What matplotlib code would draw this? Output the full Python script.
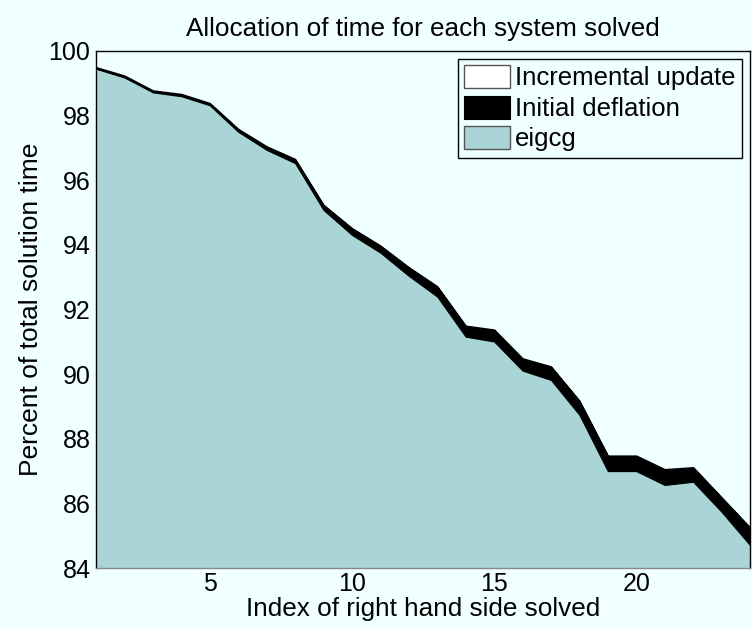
import matplotlib
matplotlib.use("Agg")
import matplotlib.pyplot as plt
import numpy as np

plt.rcParams['font.family'] = ['Liberation Sans', 'DejaVu Sans']

rhs_index = list(range(1, 25))
# top of initial deflation band (eigcg + initial deflation), percent
eigcg_plus_deflation = [99.47, 99.21, 98.75, 98.64, 98.36, 97.56, 97.02, 96.63, 95.21, 94.49,
                        93.95, 93.28, 92.69, 91.47, 91.35, 90.46, 90.21, 89.15, 87.45, 87.45,
                        87.03, 87.09, 86.16, 85.23]
eigcg = [99.45, 99.18, 98.72, 98.60, 98.32, 97.50, 96.94, 96.53, 95.08, 94.31,
         93.76, 93.04, 92.40, 91.16, 91.01, 90.11, 89.82, 88.74, 87.00, 87.00,
         86.57, 86.67, 85.74, 84.71]
incremental = [0.03] * 24

x = np.array(rhs_index)
e = np.array(eigcg)
t = np.array(eigcg_plus_deflation)
inc = np.array(incremental)

bg = '#f0ffff'
teal = '#a9d5d6'

fig = plt.figure(figsize=(7.52, 6.28), dpi=100, facecolor=bg)
ax = fig.add_axes([0.1277, 0.0955, 0.8696, 0.8233])
ax.set_facecolor(bg)

ymin = 84
ax.fill_between(x, ymin, e, facecolor=teal, edgecolor='none', label='eigcg', zorder=2)
ax.fill_between(x, e, t, facecolor='black', edgecolor='black', linewidth=0.8,
                label='Initial deflation', zorder=3)
ax.fill_between(x, t, t + inc, facecolor='white', edgecolor='black', linewidth=1.0,
                label='Incremental update', zorder=4)

ax.set_xlim(1, 24)
ax.set_ylim(84, 100)
ax.set_xticks([5, 10, 15, 20])
ax.set_yticks(np.arange(84, 101, 2))
ax.tick_params(length=0, labelsize=18, pad=4)
ax.tick_params(axis='x', pad=3)

for s in ['top', 'right', 'left']:
    ax.spines[s].set_color('black')
    ax.spines[s].set_linewidth(1.0)
ax.spines['bottom'].set_color('#888888')
ax.spines['bottom'].set_linewidth(1.0)

ax.set_title('Allocation of time for each system solved', fontsize=18.8, pad=11)
ax.set_xlabel('Index of right hand side solved', fontsize=18.8, labelpad=0.5)
ax.set_ylabel('Percent of total solution time', fontsize=19, labelpad=4)

h, l = ax.get_legend_handles_labels()
order = [2, 1, 0]
leg = ax.legend([h[i] for i in order], [l[i] for i in order], loc='upper right',
                fontsize=18.5, frameon=True, fancybox=False, handlelength=1.8,
                handleheight=1.0, handletextpad=0.2, labelspacing=0.2,
                borderpad=0.25, borderaxespad=0.3, facecolor=bg, edgecolor='black')
leg.get_frame().set_linewidth(1.0)
leg.get_frame().set_alpha(1)
hs = leg.legend_handles
hs[0].set_edgecolor('#555555')
hs[2].set_edgecolor('#555555')

fig.savefig('out.png', dpi=100, facecolor=bg)
